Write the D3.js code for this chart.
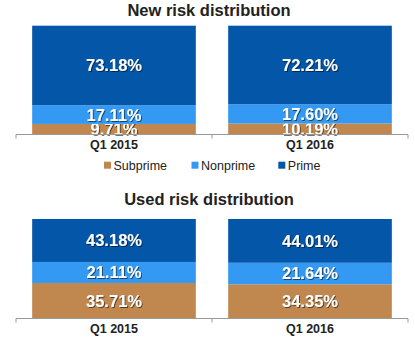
<html>
<head>
  <meta charset="UTF-8">
  <title>Risk distribution</title>
  <script src="https://d3js.org/d3.v7.min.js"></script>
  <style>
    body { margin: 0; background: #fff; }
    text { font-family: "Liberation Sans", Arial, sans-serif; }
  </style>
</head>
<body>
  <svg id="chart" width="415" height="337"></svg>

  <script>
    // data
    const quarters = ["Q1 2015", "Q1 2016"];
    const tiers = ["Subprime", "Nonprime", "Prime"];
    const tierColors = ["#c0874f", "#3399f3", "#0457a8"];

    const newSubprime = [9.71, 10.19];
    const newNonprime = [17.11, 17.60];
    const newPrime = [73.18, 72.21];

    const usedSubprime = [35.71, 34.35];
    const usedNonprime = [21.11, 21.64];
    const usedPrime = [43.18, 44.01];

    const svg = d3.select("#chart");

    // soft dark shadow under the white labels
    svg.append("defs").append("filter")
        .attr("id", "shadow")
        .attr("x", "-10%").attr("y", "-20%")
        .attr("width", "130%").attr("height", "150%")
      .append("feDropShadow")
        .attr("dx", 1).attr("dy", 1)
        .attr("stdDeviation", 0.6)
        .attr("flood-color", "#000")
        .attr("flood-opacity", 0.55);

    const x = d3.scaleBand()
        .domain(quarters)
        .range([16, 408])
        .paddingInner(0.165)
        .paddingOuter(0.0825);

    const color = d3.scaleOrdinal(tiers, tierColors);

    function drawPanel(title, titleY, top, bottom, sub, non, prime) {
        const g = svg.append("g");
        const y = d3.scaleLinear([0, 100], [bottom, top]);

        const rows = quarters.map((q, i) => ({
            quarter: q, Subprime: sub[i], Nonprime: non[i], Prime: prime[i]
        }));
        const series = d3.stack().keys(tiers)(rows);

        g.append("text")
            .attr("x", 209)
            .attr("y", titleY)
            .attr("text-anchor", "middle")
            .attr("font-size", "16.5px")
            .attr("font-weight", "bold")
            .attr("fill", "#222")
            .text(title);

        const layers = g.selectAll("g.layer").data(series)
            .join("g")
            .attr("class", "layer")
            .attr("fill", d => color(d.key));

        layers.selectAll("rect").data(d => d)
            .join("rect")
            .attr("x", d => x(d.data.quarter))
            .attr("width", x.bandwidth())
            .attr("y", d => y(d[1]))
            .attr("height", d => y(d[0]) - y(d[1]));

        layers.selectAll("text").data(d => d.map(v => Object.assign({ key: d.key }, v)))
            .join("text")
            .attr("x", d => x(d.data.quarter) + x.bandwidth() / 2)
            .attr("y", d => (y(d[0]) + y(d[1])) / 2)
            .attr("dy", "0.36em")
            .attr("text-anchor", "middle")
            .attr("font-size", "16.5px")
            .attr("font-weight", "bold")
            .attr("fill", "#fff")
            .attr("filter", "url(#shadow)")
            .text(d => d.data[d.key].toFixed(2) + "%");

        // axis: baseline with ticks at the band boundaries
        const axis = g.append("g").attr("transform", `translate(0,${bottom})`);
        axis.append("line")
            .attr("x1", 16).attr("x2", 408)
            .attr("stroke", "#999").attr("stroke-width", 1);

        const tickXs = [16, (x(quarters[0]) + x.bandwidth() + x(quarters[1])) / 2, 408];
        axis.selectAll("line.tick").data(tickXs)
            .join("line")
            .attr("class", "tick")
            .attr("x1", d => d).attr("x2", d => d)
            .attr("y1", 0).attr("y2", 4)
            .attr("stroke", "#999");

        axis.selectAll("text.cat").data(quarters)
            .join("text")
            .attr("class", "cat")
            .attr("x", d => x(d) + x.bandwidth() / 2)
            .attr("y", 14.5)
            .attr("text-anchor", "middle")
            .attr("font-size", "12.5px")
            .attr("font-weight", "bold")
            .attr("fill", "#222")
            .text(d => d);
    }

    drawPanel("New risk distribution", 15.5, 25.7, 134.5, newSubprime, newNonprime, newPrime);
    drawPanel("Used risk distribution", 205, 219, 318.5, usedSubprime, usedNonprime, usedPrime);

    // legend between the two panels
    const legendX = [104, 191.5, 278.3];
    const legend = svg.append("g").selectAll("g").data(tiers)
        .join("g")
        .attr("transform", (d, i) => `translate(${legendX[i]},161.7)`);
    legend.append("rect")
        .attr("width", 7).attr("height", 7)
        .attr("fill", d => color(d));
    legend.append("text")
        .attr("x", 9.5).attr("y", 8)
        .attr("font-size", "12.5px")
        .attr("fill", "#222")
        .text(d => d);
  </script>
</body>
</html>
